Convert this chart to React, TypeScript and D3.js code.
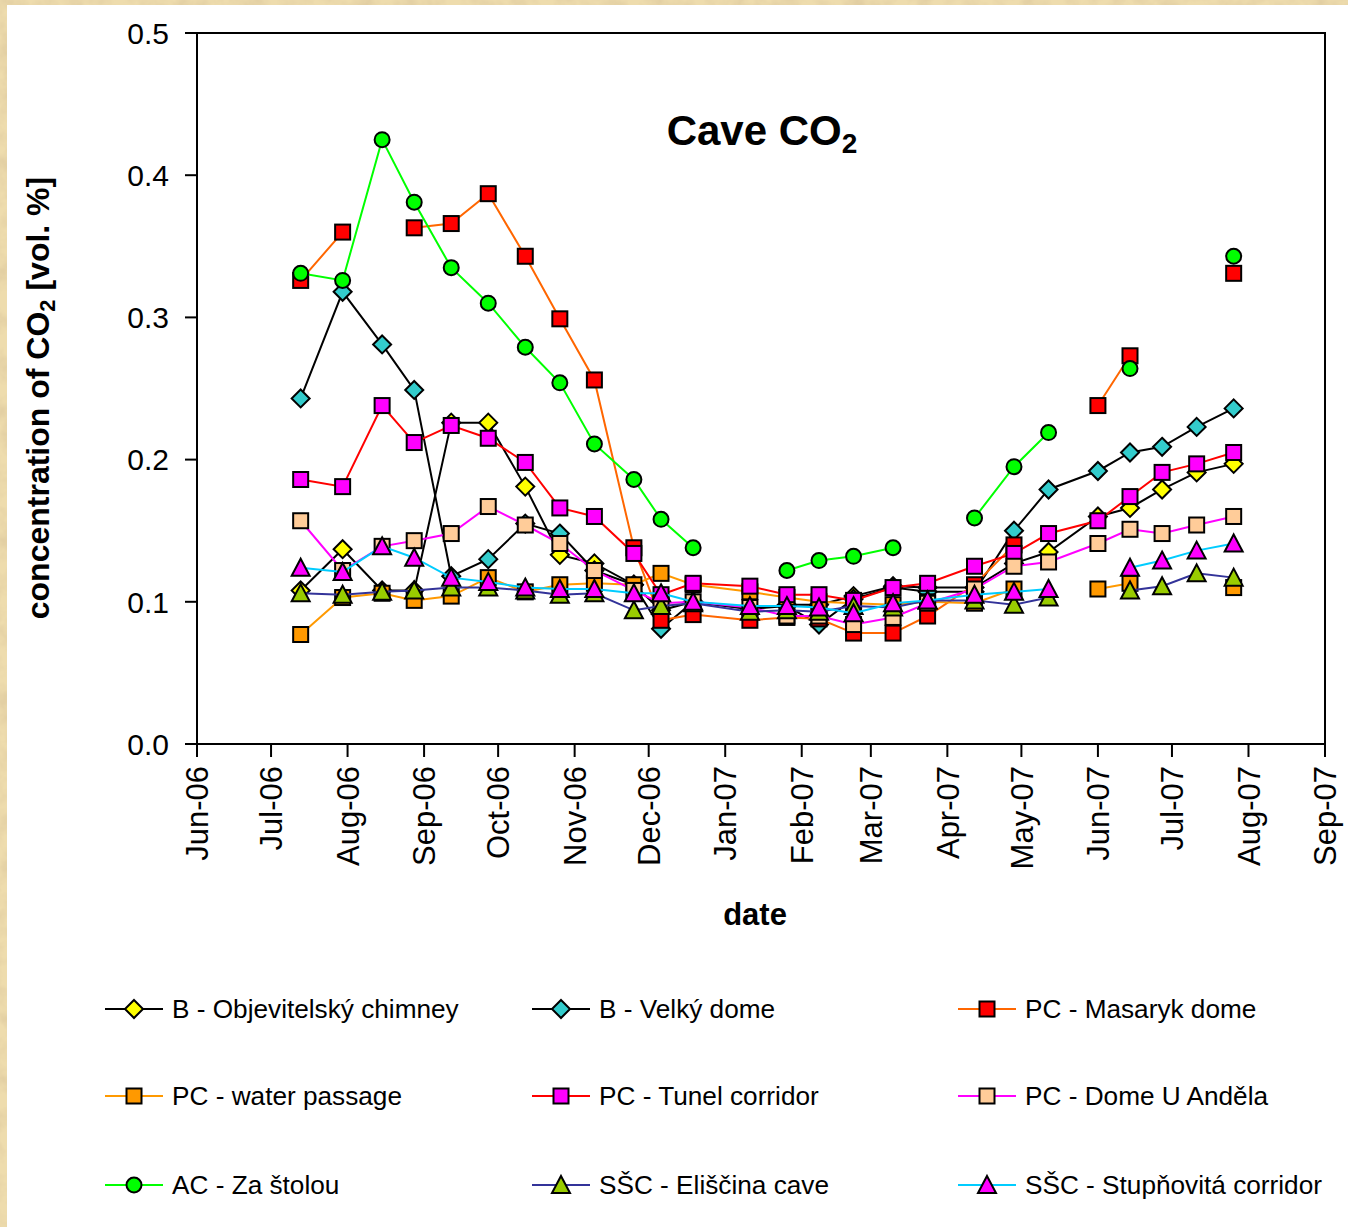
import React from "react";
import * as d3 from "d3";

const dates = ["2006-07-13","2006-07-30","2006-08-15","2006-08-28","2006-09-12","2006-09-27","2006-10-12","2006-10-26","2006-11-09","2006-11-25","2006-12-06","2006-12-19","2007-01-11","2007-01-26","2007-02-08","2007-02-22","2007-03-10","2007-03-24","2007-04-12","2007-04-28","2007-05-12","2007-06-01","2007-06-14","2007-06-27","2007-07-11","2007-07-26"];

const objevitelsky = [0.108,0.137,0.108,0.108,0.226,0.226,0.181,0.133,0.127,0.112,0.094,0.100,0.095,0.098,0.098,0.104,0.111,0.110,0.110,0.127,0.135,0.160,0.166,0.179,0.191,0.197];
const velky = [0.243,0.318,0.281,0.249,0.118,0.130,0.155,0.148,0.122,0.112,0.081,0.100,0.095,0.097,0.084,0.102,0.110,0.107,0.107,0.150,0.179,0.192,0.205,0.209,0.223,0.236];
const masaryk = [0.326,0.360,null,0.363,0.366,0.387,0.343,0.299,0.256,0.138,0.087,0.091,0.087,0.089,0.088,0.078,0.078,0.090,0.112,0.140,null,0.238,0.273,null,null,0.331];
const waterPassage = [0.077,0.103,0.106,0.101,0.104,0.117,0.107,0.112,0.113,0.112,0.120,0.112,0.107,0.103,0.100,0.099,0.098,0.100,0.099,0.109,null,0.109,0.113,null,null,0.110];
const tunel = [0.186,0.181,0.238,0.212,0.224,0.215,0.198,0.166,0.160,0.134,0.105,0.113,0.111,0.105,0.105,0.101,0.110,0.113,0.125,0.134,0.148,0.157,0.174,0.191,0.197,0.205];
const uAndela = [0.157,0.122,0.139,0.143,0.148,0.167,0.154,0.141,0.122,0.108,0.099,0.100,0.096,0.090,0.090,0.084,0.089,0.099,0.109,0.125,0.128,0.141,0.151,0.148,0.154,0.160];
const zaStolou = [0.331,0.326,0.425,0.381,0.335,0.310,0.279,0.254,0.211,0.186,0.158,0.138,null,0.122,0.129,0.132,0.138,null,0.159,0.195,0.219,null,0.264,null,null,0.343];
const eliscina = [0.106,0.105,0.107,0.108,0.110,0.110,0.108,0.105,0.106,0.094,0.097,0.099,0.093,0.094,0.093,0.097,0.096,0.101,0.101,0.098,0.103,null,0.108,0.111,0.120,0.117];
const stupnovita = [0.124,0.121,0.139,0.131,0.117,0.114,0.110,0.109,0.109,0.106,0.106,0.100,0.097,0.097,0.096,0.092,0.099,0.101,0.105,0.107,0.109,null,0.124,0.129,0.136,0.141];

const seriesNames = ["B - Objevitelský chimney","B - Velký dome","PC - Masaryk dome","PC - water passage","PC - Tunel corridor","PC - Dome U Anděla","AC - Za štolou","SŠC - Eliščina cave","SŠC - Stupňovitá corridor"];
const seriesValues = [objevitelsky, velky, masaryk, waterPassage, tunel, uAndela, zaStolou, eliscina, stupnovita];
const lineColors = ["#000000","#000000","#FF6600","#FF9900","#FF0000","#FF00FF","#00FF00","#333399","#00CCFF"];
const markerFills = ["#FFFF00","#33CCCC","#FF0000","#FF9900","#FF00FF","#FFCC99","#00FF00","#99CC00","#FF00FF"];
const markerShapes = ["diamond","diamond","square","square","square","square","circle","triangle","triangle"];

const yTicks = [0, 0.1, 0.2, 0.3, 0.4, 0.5];

const FONT = "'Liberation Sans', Arial, Helvetica, sans-serif";

function Marker({ shape, cx, cy, fill }: { shape: string; cx: number; cy: number; fill: string }) {
  const sw = 2;
  if (shape === "diamond") {
    const r = 9;
    return <path d={`M${cx},${cy - r}L${cx + r},${cy}L${cx},${cy + r}L${cx - r},${cy}Z`} fill={fill} stroke="#000" strokeWidth={sw} strokeLinejoin="miter" />;
  }
  if (shape === "square") {
    const s = 15;
    return <rect x={cx - s / 2} y={cy - s / 2} width={s} height={s} fill={fill} stroke="#000" strokeWidth={sw} />;
  }
  if (shape === "circle") {
    return <circle cx={cx} cy={cy} r={7.5} fill={fill} stroke="#000" strokeWidth={sw} />;
  }
  const w = 18, h = 16;
  return <path d={`M${cx},${cy - h / 2 - 1}L${cx + w / 2},${cy + h / 2}L${cx - w / 2},${cy + h / 2}Z`} fill={fill} stroke="#000" strokeWidth={sw} strokeLinejoin="miter" />;
}

export default function App() {
  const W = 1348, H = 1227;
  const parse = d3.timeParse("%Y-%m-%d");
  const dts = dates.map((d) => parse(d) as Date);
  const x = d3.scaleTime().domain([new Date(2006, 5, 1), new Date(2007, 8, 1)]).range([197, 1325]);
  const y = d3.scaleLinear().domain([0, 0.5]).range([744, 33]);
  const months = d3.timeMonth.range(new Date(2006, 5, 1), new Date(2007, 8, 2));
  const fmt = d3.timeFormat("%b-%y");
  const line = d3.line<[Date, number | null]>()
    .defined((d) => d[1] !== null)
    .x((d) => x(d[0]))
    .y((d) => y(d[1] as number));

  const legendCols = [105, 532, 958];
  const legendRows = [1009, 1096, 1185];

  return (
    <svg width={W} height={H} style={{ position: "absolute", left: 0, top: 0, display: "block" }} fontFamily={FONT}>
      <defs>
        <filter id="paper" x="0" y="0" width="100%" height="100%">
          <feTurbulence type="fractalNoise" baseFrequency="0.045" numOctaves={4} seed={7} />
          <feColorMatrix type="matrix" values="0 0 0 0 0.72  0 0 0 0 0.58  0 0 0 0 0.34  1.6 0 0 0 -0.62" />
        </filter>
      </defs>
      <rect x={0} y={0} width={W} height={H} fill="#EEDCAD" />
      <rect x={0} y={0} width={W} height={H} filter="url(#paper)" />
      <rect x={7} y={5} width={W - 7} height={H - 5} fill="#FFFFFF" />

      {/* plot frame */}
      <rect x={197} y={33} width={1325 - 197} height={744 - 33} fill="#FFFFFF" stroke="#000" strokeWidth={2} />

      {/* y axis ticks */}
      {yTicks.map((t) => (
        <g key={"y" + t}>
          <line x1={185} x2={197} y1={y(t)} y2={y(t)} stroke="#000" strokeWidth={2} />
          <text x={169} y={y(t)} dy="0.36em" textAnchor="end" fontSize={30} fill="#000">{t.toFixed(1)}</text>
        </g>
      ))}

      {/* x axis ticks */}
      {months.map((m) => (
        <g key={"x" + m.getTime()}>
          <line x1={x(m)} x2={x(m)} y1={744} y2={757} stroke="#000" strokeWidth={2} />
          <text transform={`translate(${x(m)},766) rotate(-90)`} dy="0.36em" textAnchor="end" fontSize={31} fill="#000">{fmt(m)}</text>
        </g>
      ))}

      {/* series */}
      {seriesValues.map((vals, si) => {
        const pts: [Date, number | null][] = dts.map((d, i) => [d, vals[i]]);
        return (
          <g key={"s" + si}>
            <path d={line(pts) || ""} fill="none" stroke={lineColors[si]} strokeWidth={2} />
            {pts.filter((p) => p[1] !== null).map((p, i) => (
              <Marker key={i} shape={markerShapes[si]} cx={x(p[0])} cy={y(p[1] as number)} fill={markerFills[si]} />
            ))}
          </g>
        );
      })}

      {/* title */}
      <text x={762} y={145} textAnchor="middle" fontSize={42} fontWeight="bold" fill="#000">
        Cave CO<tspan fontSize={28} dy={8}>2</tspan>
      </text>

      {/* axis titles */}
      <text x={755} y={925} textAnchor="middle" fontSize={31} fontWeight="bold" fill="#000">date</text>
      <text transform="translate(49,398) rotate(-90)" textAnchor="middle" fontSize={32} fontWeight="bold" fill="#000">
        concentration of CO<tspan fontSize={22} dy={6}>2</tspan><tspan dy={-6}> [vol. %]</tspan>
      </text>

      {/* legend */}
      {seriesNames.map((name, i) => {
        const cx = legendCols[i % 3];
        const cy = legendRows[Math.floor(i / 3)];
        return (
          <g key={"l" + i}>
            <line x1={cx} x2={cx + 58} y1={cy} y2={cy} stroke={lineColors[i]} strokeWidth={2} />
            <Marker shape={markerShapes[i]} cx={cx + 29} cy={cy} fill={markerFills[i]} />
            <text x={cx + 67} y={cy} dy="0.36em" fontSize={26.2} fill="#000">{name}</text>
          </g>
        );
      })}
    </svg>
  );
}
